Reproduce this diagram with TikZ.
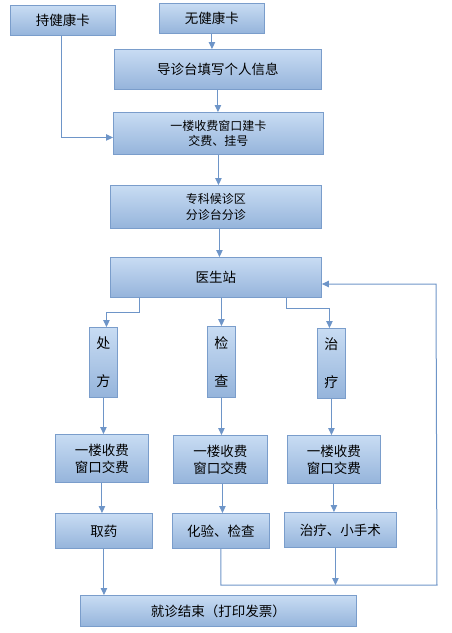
\documentclass[tikz,border=0pt]{standalone}
\usepackage{fontspec}
\setmainfont{Liberation Sans}
\newfontfamily\cjk{Noto Sans CJK SC}
\usetikzlibrary{arrows.meta}
\definecolor{boxtop}{HTML}{C8DCF3}
\definecolor{boxbot}{HTML}{95B4DB}
\definecolor{boxline}{HTML}{7A9DCB}
\definecolor{arr}{HTML}{6E95C8}
\begin{document}
\begin{tikzpicture}[x=1pt,y=-1pt,
  box/.style={draw=boxline, line width=0.9pt, top color=boxtop, bottom color=boxbot,
    inner sep=0pt, anchor=north west, align=center, text=black,
    font=\cjk\fontsize{13.5}{17}\selectfont},
  small/.style={font=\cjk\fontsize{12}{15.5}\selectfont},
  vert/.style={font=\cjk\fontsize{14}{38}\selectfont},
  link/.style={draw=arr, line width=1pt},
  arrowlink/.style={link, -{Triangle[width=6.5pt,length=7pt]}}]
\useasboundingbox (0,0) rectangle (451,633);

\node[box, minimum width=105pt, minimum height=30pt] (chi) at (10,5) {持健康卡};
\node[box, minimum width=105pt, minimum height=30pt] (wu) at (159,3) {无健康卡};
\node[box, minimum width=207pt, minimum height=40pt] (dz) at (114,49) {导诊台填写个人信息};
\node[box, small, minimum width=210pt, minimum height=42pt] (yl) at (113,112) {一楼收费窗口建卡\\交费、挂号};
\node[box, small, minimum width=211pt, minimum height=43pt] (zk) at (110,185) {专科候诊区\\分诊台分诊};
\node[box, minimum width=211pt, minimum height=40pt] (ys) at (110,257) {医生站};
\node[box, vert, minimum width=28pt, minimum height=70pt] (cf) at (89,327) {处\\方};
\node[box, vert, minimum width=28pt, minimum height=71pt] (jc) at (207,326) {检\\查};
\node[box, vert, minimum width=28pt, minimum height=70pt] (zl) at (317,328) {治\\疗};
\node[box, minimum width=93pt, minimum height=48pt] (sfa) at (55,434) {一楼收费\\窗口交费};
\node[box, minimum width=94pt, minimum height=48pt] (sfb) at (173,435) {一楼收费\\窗口交费};
\node[box, minimum width=93pt, minimum height=48pt] (sfc) at (287,435) {一楼收费\\窗口交费};
\node[box, minimum width=97pt, minimum height=35pt] (qy) at (55,513) {取药};
\node[box, minimum width=97pt, minimum height=35pt] (hy) at (172,513) {化验、检查};
\node[box, minimum width=112pt, minimum height=35pt] (xs) at (284,512) {治疗、小手术};
\node[box, minimum width=276pt, minimum height=31pt] (end) at (80,595) {就诊结束（打印发票）};

\coordinate (loopbr) at (437,585);
\coordinate (looptr) at (436,284);

\draw[arrowlink] (wu.south) -- (wu.south |- dz.north);
\draw[arrowlink] (dz.south) -- (dz.south |- yl.north);
\draw[arrowlink] (yl.south) -- (yl.south |- zk.north);
\draw[arrowlink] ([xshift=3.5pt]zk.south) -- ([xshift=3.5pt]zk.south |- ys.north);
\draw[arrowlink] ([xshift=-1.5pt]chi.south) |- ([yshift=-4pt]yl.west);

\draw[arrowlink] ([xshift=29pt]ys.south west) -- ++(0,15) -| ([xshift=3pt]cf.north);
\draw[arrowlink] (ys.south -| jc.north) -- (jc.north);
\draw[arrowlink] ([xshift=176pt]ys.south west) -- ++(0,11) -| ([xshift=-2pt]zl.north);

\draw[arrowlink] (cf.south) -- (cf.south |- sfa.north);
\draw[arrowlink] (jc.south) -- (jc.south |- sfb.north);
\draw[arrowlink] (zl.south) -- (zl.south |- sfc.north);

\draw[arrowlink] (sfa.south) -- (sfa.south |- qy.north);
\draw[arrowlink] ([xshift=2pt]sfb.south) -- ([xshift=2pt]sfb.south |- hy.north);
\draw[arrowlink] (sfc.south) -- (sfc.south |- xs.north);

\draw[arrowlink] (qy.south) -- (qy.south |- end.north);
\draw[arrowlink] (hy.south) |- (loopbr) -- (looptr) -- (looptr -| ys.east);
\draw[arrowlink] ([xshift=-5pt]xs.south) -- ([xshift=-5pt]xs.south |- loopbr);
\end{tikzpicture}
\end{document}
